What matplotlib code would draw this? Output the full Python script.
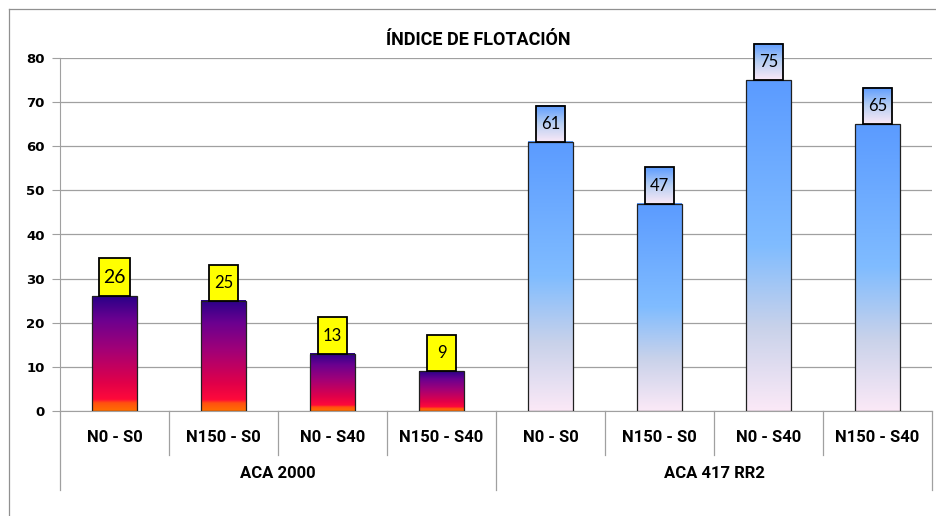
import numpy as np
import matplotlib.pyplot as plt
from matplotlib.colors import LinearSegmentedColormap
from matplotlib.patches import Rectangle
from matplotlib.lines import Line2D

# datos
titulo = 'ÍNDICE DE FLOTACIÓN'
grupos = ['ACA 2000', 'ACA 417 RR2']
tratamientos = ['N0 - S0', 'N150 - S0', 'N0 - S40', 'N150 - S40']
aca2000 = [26, 25, 13, 9]
aca417 = [61, 47, 75, 65]
yticks = [0, 10, 20, 30, 40, 50, 60, 70, 80]

cmap1 = LinearSegmentedColormap.from_list('c1', [
    (0.0, '#ff7000'), (0.07, '#ff5010'), (0.10, '#ff0a3a'),
    (0.25, '#e0004a'), (0.55, '#a00078'), (0.8, '#6a0090'), (1.0, '#2a0088')])
cmap2 = LinearSegmentedColormap.from_list('c2', [
    (0.0, '#fbe9f7'), (0.25, '#c9d2ea'), (0.5, '#80bcff'), (1.0, '#5b9bff')])
cmap_lbl = LinearSegmentedColormap.from_list('c3', [
    (0.0, '#fbe9f7'), (0.5, '#b8cff2'), (1.0, '#5b9bff')])

fig = plt.figure(figsize=(9.37, 5.16), dpi=100)
ax = fig.add_axes([60/937, 105/516, 872/937, 353/516])

valores = aca2000 + aca417
x = np.arange(len(valores))
w = 0.41
grad = np.linspace(0, 1, 256).reshape(-1, 1)

for i, v in enumerate(valores):
    cm = cmap1 if i < 4 else cmap2
    ax.imshow(grad, cmap=cm, extent=(x[i] - w/2, x[i] + w/2, 0, v),
              origin='lower', aspect='auto', zorder=2, interpolation='bilinear')
    ax.add_patch(Rectangle((x[i] - w/2, 0), w, v, fill=False,
                           ec='#202020', lw=0.9, zorder=3))
    # etiqueta
    bw = 0.28 if v == 26 else 0.26
    bh = 8.7 if v == 26 else 8.2
    x0 = x[i] - bw/2
    if i < 4:
        ax.add_patch(Rectangle((x0, v), bw, bh, fc='#ffff00', ec='black',
                               lw=1.3, zorder=4, clip_on=False))
    else:
        im = ax.imshow(grad, cmap=cmap_lbl, extent=(x0, x0 + bw, v, v + bh),
                       origin='lower', aspect='auto', zorder=4,
                       interpolation='bilinear')
        im.set_clip_on(False)
        ax.add_patch(Rectangle((x0, v), bw, bh, fill=False, ec='black',
                               lw=1.3, zorder=5, clip_on=False))
    ax.text(x[i], v + bh/2, str(v), ha='center', va='center',
            fontsize=14 if v == 26 else 12, family='Lato', zorder=6)

ax.set_xlim(-0.5, 7.5)
ax.set_ylim(0, 80)
ax.set_yticks(yticks)
ax.set_yticklabels([str(t) for t in yticks], fontweight='bold', fontsize=9.5)
ax.tick_params(axis='y', direction='out', length=6, color='#a0a0a0', pad=5)
ax.set_xticks([])
ax.yaxis.grid(True, color='#a0a0a0', lw=0.9)
ax.set_axisbelow(True)
for s in ['top', 'right']:
    ax.spines[s].set_visible(False)
ax.spines['left'].set_color('#a0a0a0')
ax.spines['bottom'].set_color('#a0a0a0')

# eje de categorias en dos niveles
tr = ax.get_xaxis_transform()
for b in np.arange(-0.5, 8, 1.0):
    fondo = -0.224 if b in (-0.5, 3.5, 7.5) else -0.125
    ax.add_line(Line2D([b, b], [0, fondo], transform=tr, color='#a0a0a0',
                       lw=0.9, clip_on=False))
for i in x:
    ax.text(i, -0.074, tratamientos[i % 4], transform=tr, ha='center',
            va='center', fontsize=12, fontweight='bold', family='Roboto')
for g, nombre in enumerate(grupos):
    ax.text(g*4 + 1.5, -0.178, nombre, transform=tr, ha='center',
            va='center', fontsize=12, fontweight='bold', family='Roboto')

fig.text(478/937, 1 - 40/516, titulo, ha='center', va='center',
         fontsize=13, fontweight='bold', family='Roboto')

# marco exterior
fig.add_artist(Line2D([9/937, 9/937], [0, 1 - 9/516], color='#909090', lw=0.9))
fig.add_artist(Line2D([9/937, 1], [1 - 9/516, 1 - 9/516], color='#909090', lw=0.9))

fig.savefig('out.png', dpi=100)
